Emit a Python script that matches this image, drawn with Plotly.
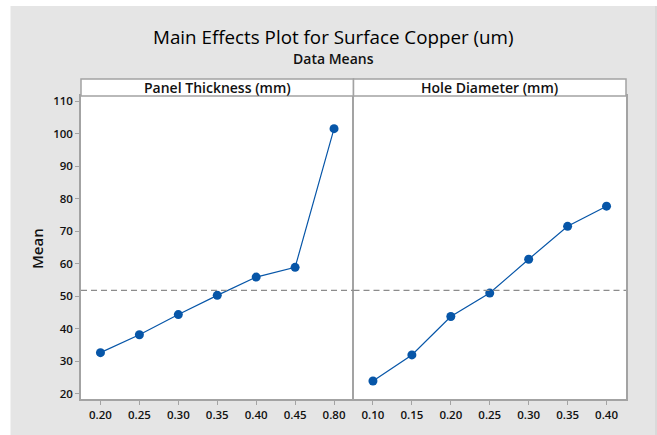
import plotly.graph_objects as go

# ---- data ----
panel_levels = ["0.20", "0.25", "0.30", "0.35", "0.40", "0.45", "0.80"]
panel_means = [32.7, 38.2, 44.4, 50.3, 55.9, 58.9, 101.5]
hole_levels = ["0.10", "0.15", "0.20", "0.25", "0.30", "0.35", "0.40"]
hole_means = [24.0, 32.0, 43.8, 51.0, 61.4, 71.5, 77.7]
overall_mean = 51.8
y_ticks = [20, 30, 40, 50, 60, 70, 80, 90, 100, 110]
factor_names = ["Panel Thickness (mm)", "Hole Diameter (mm)"]

# ---- layout constants ----
W, H = 657, 435
L, R, T, B = 81, 31, 96, 36
PW, PH = W - L - R, H - T - B
BLUE = "#0756a8"
GRID = "#a3a3a3"
BG = "#e5e5e5"
FONT = "Open Sans"
TXT = "#111111"


def px_x(px):
    return (px - L) / PW


def px_y(py):
    return 1 + (T - py) / PH


fig = go.Figure()
fig.add_trace(go.Scatter(x=panel_levels, y=panel_means, xaxis="x", yaxis="y",
                         mode="lines+markers",
                         line=dict(color=BLUE, width=1.2),
                         marker=dict(color=BLUE, size=9), showlegend=False))
fig.add_trace(go.Scatter(x=hole_levels, y=hole_means, xaxis="x2", yaxis="y2",
                         mode="lines+markers",
                         line=dict(color=BLUE, width=1.2),
                         marker=dict(color=BLUE, size=9), showlegend=False))

tickfont = dict(family=FONT, size=11.5, color=TXT, weight=600)
xaxis_common = dict(showgrid=False, zeroline=False, showline=True, linecolor=GRID,
                    linewidth=1.5, mirror=True, ticks="outside", ticklen=4,
                    tickcolor=GRID, tickfont=tickfont, type="category", range=[-0.5, 6.5])

yr = [18.46, 111.54]
fig.update_layout(
    width=W, height=H,
    margin=dict(l=L, r=R, t=T, b=B),
    paper_bgcolor=BG, plot_bgcolor="white",
    xaxis=dict(domain=[0, 0.5], anchor="y", **xaxis_common),
    xaxis2=dict(domain=[0.5, 1], anchor="y2", **xaxis_common),
    yaxis=dict(range=yr, tickvals=y_ticks, anchor="x", showgrid=False, zeroline=False,
               showline=True, linecolor=GRID, linewidth=1.5, mirror=False,
               ticks="outside", ticklen=4, tickcolor=GRID, tickfont=tickfont),
    yaxis2=dict(range=yr, anchor="x2", matches="y", showticklabels=False, showgrid=False,
                zeroline=False, showline=True, linecolor=GRID, linewidth=1.5, mirror=True,
                ticks=""),
    showlegend=False,
)

shapes = []
# white margin on the left and top of the image
shapes.append(dict(type="rect", xref="paper", yref="paper", x0=px_x(-5), x1=px_x(10.5),
                   y0=px_y(H + 5), y1=px_y(-5), fillcolor="white", line=dict(width=0), layer="above"))
shapes.append(dict(type="rect", xref="paper", yref="paper", x0=px_x(-5), x1=px_x(W + 5),
                   y0=px_y(6), y1=px_y(-5), fillcolor="white", line=dict(width=0), layer="above"))
# thin darker edge on the right of the grey frame
shapes.append(dict(type="line", xref="paper", yref="paper", x0=px_x(656), x1=px_x(656),
                   y0=px_y(H + 5), y1=px_y(6), line=dict(color="#cfcfcf", width=1)))
# strips
for i, name in enumerate(factor_names):
    shapes.append(dict(type="rect", xref="paper", yref="paper", x0=0.5 * i, x1=0.5 * (i + 1),
                       y0=1, y1=px_y(79), fillcolor="white", line=dict(color=GRID, width=1.5)))
# reference lines
for xr, yref in (("x domain", "y"), ("x2 domain", "y2")):
    shapes.append(dict(type="line", xref=xr, yref=yref, x0=0, x1=1, y0=overall_mean, y1=overall_mean,
                       line=dict(color="#8c8c8c", width=1.2, dash="6px,4px")))
fig.update_layout(shapes=shapes)

ann = []
ann.append(dict(text="Main Effects Plot for Surface Copper (um)", xref="paper", yref="paper",
                x=px_x(333.5), y=px_y(37), showarrow=False, xanchor="center", yanchor="middle",
                font=dict(family=FONT, size=18.8, color="#000000", weight=400)))
ann.append(dict(text="Data Means", xref="paper", yref="paper",
                x=px_x(333), y=px_y(59), showarrow=False, xanchor="center", yanchor="middle",
                font=dict(family=FONT, size=14, color=TXT, weight=600)))
for i, name in enumerate(factor_names):
    ann.append(dict(text=name, xref="paper", yref="paper", x=0.25 + 0.5 * i, y=px_y(87.5),
                    showarrow=False, xanchor="center", yanchor="middle",
                    font=dict(family=FONT, size=14, color=TXT, weight=600)))
ann.append(dict(text="Mean", xref="paper", yref="paper", x=px_x(37), y=px_y(249),
                showarrow=False, textangle=-90, xanchor="center", yanchor="middle",
                font=dict(family=FONT, size=15, color=TXT, weight=600)))
fig.update_layout(annotations=ann)

fig.write_html("out.html", config={"displayModeBar": False},
               post_script="document.body.style.margin='0';document.body.style.overflow='hidden';")
